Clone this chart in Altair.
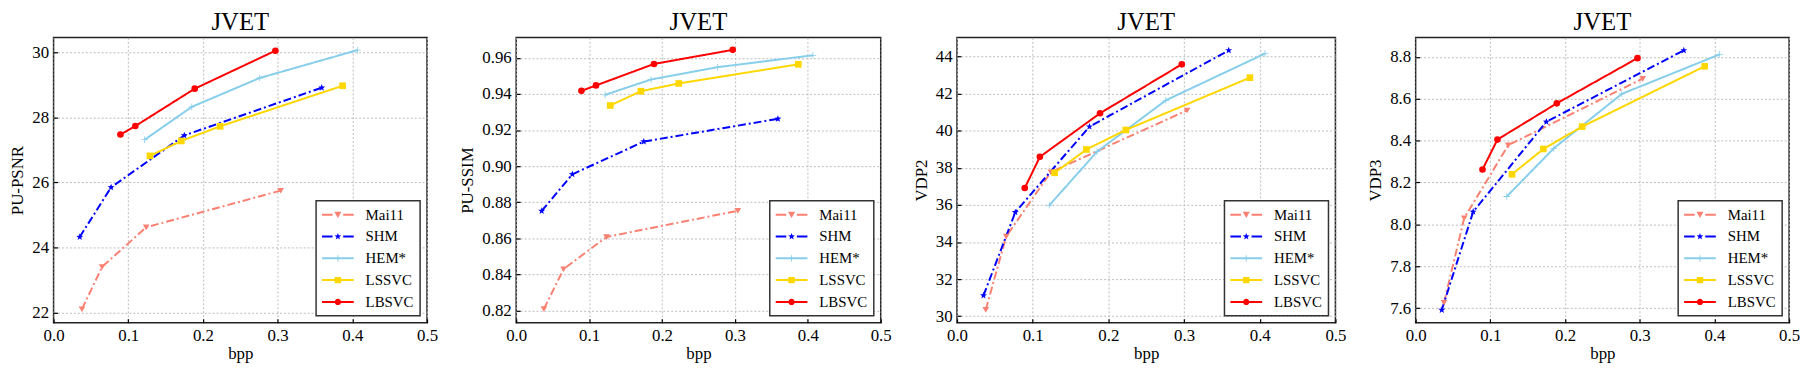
import math
import altair as alt
import pandas as pd

# ---------------- data ----------------
METHODS = ["Mai11", "SHM", "HEM*", "LSSVC", "LBSVC"]

BPP = {
    "Mai11": [0.038, 0.065, 0.124, 0.304],
    "SHM":   [0.035, 0.077, 0.175, 0.359],
    "HEM*":  [0.122, 0.185, 0.276, 0.407],
    "LSSVC": [0.129, 0.171, 0.223, 0.387],
    "LBSVC": [0.0895, 0.1095, 0.189, 0.297],
}
PU_PSNR = {
    "Mai11": [22.10, 23.40, 24.62, 25.75],
    "SHM":   [24.32, 25.85, 27.45, 28.92],
    "HEM*":  [27.32, 28.33, 29.22, 30.08],
    "LSSVC": [26.82, 27.28, 27.73, 28.98],
    "LBSVC": [27.48, 27.74, 28.89, 30.06],
}
PU_SSIM = {
    "Mai11": [0.8209, 0.8430, 0.8608, 0.8753],
    "SHM":   [0.8752, 0.8955, 0.9136, 0.9262],
    "HEM*":  [0.9395, 0.9480, 0.9548, 0.9614],
    "LSSVC": [0.9336, 0.9415, 0.9458, 0.9564],
    "LBSVC": [0.9417, 0.9447, 0.9566, 0.9644],
}
VDP2 = {
    "Mai11": [30.35, 34.30, 37.77, 41.10],
    "SHM":   [31.12, 35.60, 40.22, 44.33],
    "HEM*":  [35.98, 38.87, 41.64, 44.16],
    "LSSVC": [37.73, 38.99, 40.04, 42.86],
    "LBSVC": [36.91, 38.59, 40.94, 43.58],
}
VDP3 = {
    "Mai11": [7.626, 8.030, 8.378, 8.696],
    "SHM":   [7.591, 8.060, 8.490, 8.831],
    "HEM*":  [8.133, 8.363, 8.623, 8.812],
    "LSSVC": [8.239, 8.360, 8.467, 8.755],
    "LBSVC": [8.262, 8.405, 8.578, 8.794],
}

X_TICKS = [0.0, 0.1, 0.2, 0.3, 0.4, 0.5]
PANELS = [
    # (y title, values, y domain, y ticks, format, width)
    ("PU-PSNR", PU_PSNR, [21.68, 30.47], [22, 24, 26, 28, 30], "d", 377),
    ("PU-SSIM", PU_SSIM, [0.8133, 0.9713], [0.82, 0.84, 0.86, 0.88, 0.90, 0.92, 0.94, 0.96], ".2f", 368),
    ("VDP2", VDP2, [29.65, 45.03], [30, 32, 34, 36, 38, 40, 42, 44], "d", 382),
    ("VDP3", VDP3, [7.530, 8.893], [7.6, 7.8, 8.0, 8.2, 8.4, 8.6, 8.8], ".1f", 377),
]

# ---------------- styles ----------------
FONT = "Liberation Serif"
COLORS = ["#FA8072", "#0000FF", "#87CEEB", "#FFD700", "#FF0000"]
DASHES = [[8, 3, 2, 3], [8, 3, 2, 3], [1, 0], [1, 0], [1, 0]]
PLOT_H = 288


def star_pts(cx, scale):
    pts = []
    for i in range(10):
        a = -math.pi / 2 + i * math.pi / 5
        r = 1.0 if i % 2 == 0 else 0.42
        pts.append((cx + scale * r * math.cos(a), scale * r * math.sin(a)))
    return "M" + "L".join(f"{x:.3f},{y:.3f}" for x, y in pts) + "Z"


# marker shapes for data points (unit coordinates)
PT_SHAPES = [
    "M-1,-0.8L1,-0.8L0,0.9Z",
    star_pts(0, 1.1),
    "M-1,-0.12H1V0.12H-1Z M-0.12,-1H0.12V1H-0.12Z",
    "square",
    "circle",
]

# legend symbols: short line + marker (unit = sqrt(size)/2 px)
T = 0.125
SOLID = f"M-1,{-T}H3V{T}H-1Z"
DASHED = f"M-1,{-T}H0.33V{T}H-1Z M1.67,{-T}H3V{T}H1.67Z"
LEG_SHAPES = [
    DASHED + " M0.55,-0.38L1.45,-0.38L1,0.42Z",
    DASHED + " " + star_pts(1, 0.45),
    SOLID + " M0.6,-0.06H1.4V0.06H0.6Z M0.94,-0.4H1.06V0.4H0.94Z",
    SOLID + " M0.6,-0.4H1.4V0.4H0.6Z",
    SOLID + " M0.6,0A0.4,0.4 0 1,1 1.4,0A0.4,0.4 0 1,1 0.6,0Z",
]

color_scale = alt.Scale(domain=METHODS, range=COLORS)


def panel(ytitle, vals, ydom, yticks, fmt, width):
    rows = []
    for m in METHODS:
        for b, v in zip(BPP[m], vals[m]):
            rows.append({"method": m, "bpp": b, "value": v})
    df = pd.DataFrame(rows)
    base = alt.Chart(df)
    xs = alt.Scale(domain=[0, 0.5], nice=False, zero=False)
    ys = alt.Scale(domain=ydom, nice=False, zero=False)
    xax = alt.Axis(values=X_TICKS, format=".1f", title="bpp", offset=-4, labelFlush=False,
                   labelPadding=5, titlePadding=2, labelOverlap=False)
    yax = alt.Axis(values=yticks, format=fmt, title=ytitle, offset=-4, labelFlush=False,
                   labelPadding=5, titlePadding=5, labelOverlap=False)
    X = alt.X("bpp:Q", scale=xs, axis=xax)
    Y = alt.Y("value:Q", scale=ys, axis=yax)

    lines = base.mark_line(strokeWidth=2).encode(
        x=X, y=Y,
        color=alt.Color("method:N", scale=color_scale, legend=None),
        strokeDash=alt.StrokeDash("method:N", scale=alt.Scale(domain=METHODS, range=DASHES), legend=None),
    )
    points = base.mark_point(filled=True, opacity=1, size=45, strokeWidth=0).encode(
        x=X, y=Y,
        color=alt.Color("method:N", scale=color_scale, legend=None),
        shape=alt.Shape("method:N", scale=alt.Scale(domain=METHODS, range=PT_SHAPES), legend=None),
    )
    legend_layer = base.transform_filter("false").mark_point(filled=True, opacity=1).encode(
        x=X, y=Y,
        color=alt.Color("method:N", scale=color_scale, legend=alt.Legend(title=None)),
        shape=alt.Shape("method:N", scale=alt.Scale(domain=METHODS, range=LEG_SHAPES),
                        legend=alt.Legend(title=None)),
    )
    return alt.layer(lines, points, legend_layer).resolve_scale(
        color="independent", shape="independent", strokeDash="independent"
    ).properties(
        width=width, height=PLOT_H,
        title=alt.TitleParams("JVET", fontSize=25, font=FONT, fontWeight="normal",
                              color="black", offset=2, anchor="middle"),
    )


charts = [panel(*p) for p in PANELS]

chart = alt.hconcat(*charts, spacing=19).resolve_scale(
    color="independent", shape="independent", strokeDash="independent"
).properties(
    padding=0
).configure_view(
    stroke="#222", strokeWidth=1.5
).configure_axis(
    domain=False, grid=True, gridColor="#b5b5b5", gridDash=[2, 2], gridWidth=0.9,
    tickColor="black", tickSize=4, tickWidth=1.2,
    labelFont=FONT, labelFontSize=17, labelColor="black",
    titleFont=FONT, titleFontSize=17, titleFontWeight="normal", titleColor="black",
).configure_legend(
    orient="bottom-right", offset=7, fillColor="white", strokeColor="#333", strokeWidth=1.5,
    padding=6, cornerRadius=0, labelFont=FONT, labelFontSize=15, labelColor="black",
    symbolSize=256, labelOffset=28, rowPadding=6, symbolStrokeWidth=0, symbolOpacity=1,
)

chart.save("out.html", embed_options={"renderer": "svg", "actions": False})
